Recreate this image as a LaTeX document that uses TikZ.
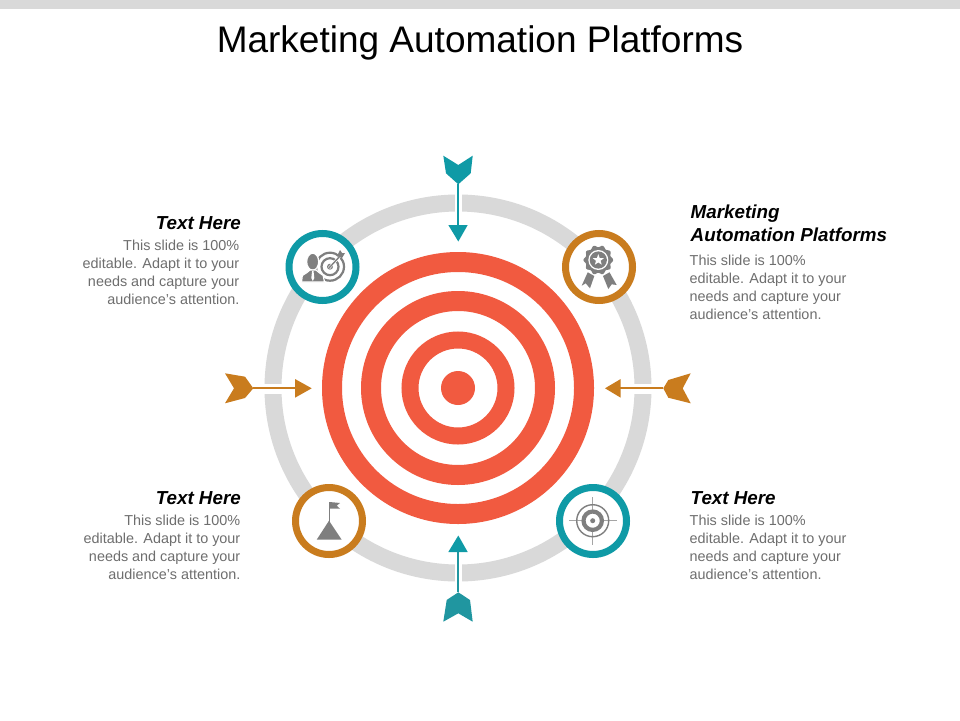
\documentclass[tikz,border=0pt]{standalone}
\usepackage{fontspec}
\setmainfont{Liberation Sans}
\definecolor{teal1}{HTML}{0F9AA6}
\definecolor{orange1}{HTML}{C97C1E}
\definecolor{red1}{HTML}{F15A40}
\definecolor{ring1}{HTML}{D9D9D9}
\definecolor{icon1}{HTML}{7F7F7F}
\definecolor{body1}{HTML}{6E6E6E}
\tikzset{
  x=1pt,y=-1pt,
  redring/.style={draw=red1,fill=none},
  badge/.style={fill=white,line width=7pt},
  shaft/.style={line width=2pt},
  titletext/.style={inner sep=0pt,anchor=base,font=\fontsize{37}{44}\selectfont,text=black},
  headtext/.style={inner sep=0pt,font=\fontsize{18.8}{23}\selectfont\bfseries\itshape,text=black},
  bodytext/.style={inner sep=0pt,font=\fontsize{14.4}{17.8}\selectfont,text=body1},
}
\begin{document}
\begin{tikzpicture}
\useasboundingbox (0,0) rectangle (960,720);
\fill[white] (0,0) rectangle (960,720);
\fill[ring1] (0,0) rectangle (960,9);
\node[titletext] (title) at (480,52) {Marketing Automation Platforms};

% coordinates
\coordinate (c) at (458,388);
\coordinate (tT) at (458.3,184);
\coordinate (tH) at (458.3,226);
\coordinate (bT) at (458.3,592);
\coordinate (bH) at (458.3,551);
\coordinate (lT) at (253,388.3);
\coordinate (lH) at (296,388.3);
\coordinate (rT) at (663,388.3);
\coordinate (rH) at (620,388.3);

% grey ring and gaps
\draw[ring1,line width=17pt] (c) circle[radius=185];
\fill[white] (454.8,190) rectangle (461.8,216);
\fill[white] (454.8,560) rectangle (461.8,586);
\fill[white] (262,383.5) rectangle (284,394);
\fill[white] (632,383.5) rectangle (654,394);

% target
\draw[redring,line width=20pt] (c) circle[radius=126];
\draw[redring,line width=20pt] (c) circle[radius=87];
\draw[redring,line width=17pt] (c) circle[radius=48];
\fill[red1] (c) circle[radius=17];

% arrows
\draw[teal1,shaft] (tT) -- (tH);
\fill[teal1] (443.3,155.7) -- (458.3,165) -- (472.7,155.7) -- (470.7,173.3) -- (458.3,184.3) -- (446,173.3) -- cycle;
\fill[teal1] (448.3,225) -- (467.7,225) -- (458.3,241.5) -- cycle;

\draw[teal1!85!gray,shaft] (bT) -- (bH);
\fill[teal1!85!gray] (458.3,592.3) -- (470,600) -- (472.7,621.7) -- (458.3,613.3) -- (443.3,621.7) -- (446.7,600) -- cycle;
\fill[teal1] (448.3,552) -- (467.7,552) -- (458.3,535.5) -- cycle;

\draw[orange1,shaft] (lT) -- (lH);
\fill[orange1] (225,373.3) -- (245,376.7) -- (253.3,388.3) -- (245,398) -- (225,403.3) -- (234,388.3) -- cycle;
\fill[orange1] (295,379) -- (311.7,388.3) -- (295,397.7) -- cycle;

\draw[orange1,shaft] (rT) -- (rH);
\fill[orange1] (663.3,388.3) -- (668.3,380) -- (690.7,373.3) -- (682.7,388.3) -- (690.7,403.3) -- (668.3,397.7) -- cycle;
\fill[orange1] (605,388.3) -- (620.7,379) -- (620.7,397.7) -- cycle;

% badges
\draw[teal1,badge] (322.5,267) circle[radius=33.5];
\draw[orange1,badge] (599,267) circle[radius=33.5];
\draw[orange1,badge] (329,521) circle[radius=33.5];
\draw[teal1,badge] (593,521) circle[radius=33.5];

% icon: person and target
\begin{scope}
\draw[icon1,line width=2.2pt] (330,266.7) circle[radius=14];
\draw[icon1,line width=2.2pt] (330,266.7) circle[radius=8.5];
\fill[icon1] (330,266.7) circle[radius=3];
\draw[white,line width=2.6pt] (329,268) -- (342,254);
\draw[icon1,line width=1.4pt] (329,268) -- (341,255);
\fill[icon1] (337,256) -- (340,250) -- (342,253) -- (345,253) -- (342,258) -- cycle;
\filldraw[icon1,draw=white,line width=1.2pt] (312.7,261.7) ellipse[x radius=6,y radius=8.5];
\filldraw[icon1,draw=white,line width=1.2pt] (301.5,282) -- (302.3,275.5) -- (307,272.5) -- (310,270) -- (316,270) -- (319,272.5) -- (323.2,275.5) -- (324.5,282) -- cycle;
\fill[white] (312.1,271) -- (313.5,271) -- (314.3,278) -- (312.8,281) -- (311.3,278) -- cycle;
\end{scope}

% icon: rosette
\begin{scope}
\fill[icon1] (587.7,272.3) -- (594.3,276) -- (590,288.3) -- (585.7,283.3) -- (581.7,285.7) -- cycle;
\fill[icon1] (609.5,272.3) -- (603,276) -- (608.3,289) -- (611.7,284.3) -- (616.7,285) -- cycle;
\fill[icon1] plot[smooth cycle,samples at={0,6,...,354},variable=\a]
  ({598.3+(13.8+1.1*cos(10*\a))*cos(\a)},{260+(13.8+1.1*cos(10*\a))*sin(\a)});
\fill[white] (598.3,260) circle[radius=10];
\fill[icon1] (598.3,260) circle[radius=8.6];
\fill[white] plot[samples at={0,...,9},variable=\i]
  ({598.3+(5.8-3.4*mod(\i,2))*sin(36*\i)},{260-(5.8-3.4*mod(\i,2))*cos(36*\i)}) -- cycle;
\end{scope}

% icon: flag on a peak
\begin{scope}
\fill[icon1] (316.7,539.7) -- (329,520.7) -- (341.7,539.7) -- cycle;
\draw[icon1,line width=1pt] (329.2,522) -- (329.2,502);
\fill[icon1] (329.7,502) -- (340,503) -- (336.7,505.7) -- (340,508.7) -- (329.7,508.7) -- cycle;
\end{scope}

% icon: crosshair
\begin{scope}
\draw[icon1!70!white,line width=1pt] (569,520.7) -- (616.7,520.7);
\draw[icon1!70!white,line width=1pt] (592.7,497) -- (592.7,544.7);
\draw[icon1,line width=1.4pt] (592.7,520.7) circle[radius=16];
\fill[white] (592.7,520.7) circle[radius=11];
\draw[icon1,line width=4.2pt] (592.7,520.7) circle[radius=9.2];
\fill[icon1] (592.7,520.7) circle[radius=2.5];
\end{scope}

% text
\node[headtext,anchor=base east] (h1) at (241,229) {Text Here};
\node[bodytext,anchor=north east,align=right] (b1) at (239.5,240) {This slide is 100\%\\editable. Adapt it to your\\needs and capture your\\audience's attention.};
\node[headtext,anchor=base east] (h3) at (241,504) {Text Here};
\node[bodytext,anchor=north east,align=right] (b3) at (240.5,515) {This slide is 100\%\\editable. Adapt it to your\\needs and capture your\\audience's attention.};
\node[headtext,anchor=base west] (h2) at (690.5,218) {Marketing};
\node[headtext,anchor=base west] (h2b) at (690.5,241) {Automation Platforms};
\node[bodytext,anchor=north west,align=left] (b2) at (689.5,255) {This slide is 100\%\\editable. Adapt it to your\\needs and capture your\\audience's attention.};
\node[headtext,anchor=base west] (h4) at (690.5,504) {Text Here};
\node[bodytext,anchor=north west,align=left] (b4) at (689.5,515) {This slide is 100\%\\editable. Adapt it to your\\needs and capture your\\audience's attention.};
\end{tikzpicture}
\end{document}
